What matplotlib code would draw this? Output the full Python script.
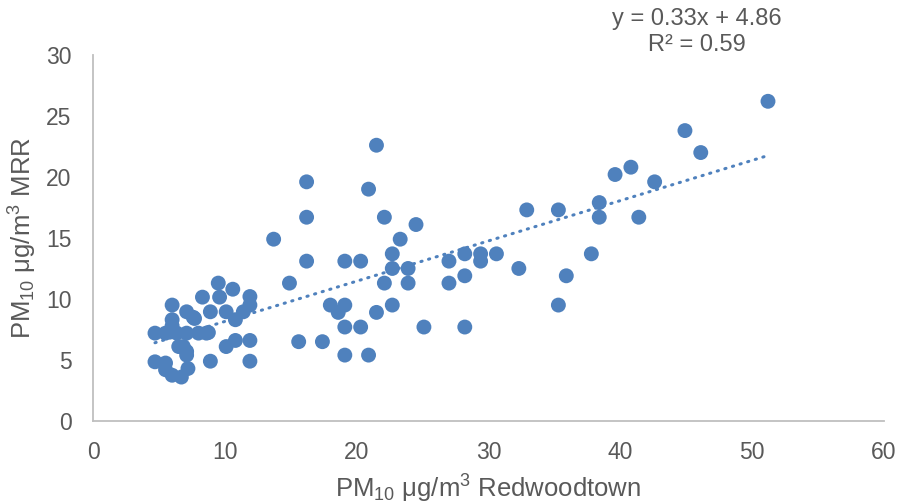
import numpy as np
import matplotlib.pyplot as plt

plt.rcParams['font.family'] = ['Liberation Sans', 'DejaVu Sans']
plt.rcParams['mathtext.default'] = 'regular'

# PM10 Redwoodtown (x) vs PM10 MRR (y)
redwoodtown = [4.7, 4.7, 5.5, 5.5, 6.0, 6.0, 6.0, 5.5, 6.35, 7.1, 8.0, 8.6,
               6.0, 6.7, 7.2, 7.1, 7.6, 6.85, 7.1, 6.5, 7.1, 8.3, 9.6, 9.5,
               10.6, 11.9, 11.9, 8.9, 10.1, 10.8, 11.4, 7.7, 8.75, 10.1, 10.8,
               11.9, 8.9, 11.9,
               13.7, 14.9, 15.6, 16.2, 16.2, 16.2, 17.4, 18.0, 18.6, 19.1, 19.1,
               19.1, 19.1, 20.3, 20.3, 20.9, 20.9, 21.5, 21.5, 22.1, 22.1, 22.7,
               22.7, 22.7, 23.3, 23.9, 23.9, 24.5, 25.1, 27.0, 27.0, 28.2, 28.2,
               28.2, 29.4, 29.4, 30.6, 32.3, 32.9, 35.3, 35.3, 35.9, 37.8, 38.4,
               38.4, 39.6, 40.8, 41.4, 42.6, 44.9, 46.1, 51.2]
mrr = [7.2, 4.85, 4.75, 4.2, 9.5, 8.3, 7.8, 7.2, 7.2, 7.2, 7.2, 7.2,
       3.75, 3.6, 4.3, 8.95, 8.5, 6.1, 5.7, 6.1, 5.4, 10.15, 10.15, 11.3,
       10.8, 10.2, 9.5, 8.95, 8.95, 8.3, 8.95, 8.4, 7.25, 6.1, 6.6,
       6.6, 4.9, 4.9,
       14.9, 11.3, 6.5, 19.6, 16.7, 13.1, 6.5, 9.5, 8.9, 9.5, 7.7,
       5.4, 13.1, 13.1, 7.7, 19.0, 5.4, 22.6, 8.9, 16.7, 11.3, 13.7,
       12.5, 9.5, 14.9, 12.5, 11.3, 16.1, 7.7, 13.1, 11.3, 13.7, 11.9,
       7.7, 13.7, 13.1, 13.7, 12.5, 17.3, 17.3, 9.5, 11.9, 13.7, 17.9,
       16.7, 20.2, 20.8, 16.7, 19.6, 23.8, 22.0, 26.2]

# linear trendline reported on the chart
slope = 0.33
intercept = 4.86
r2 = 0.59

blue = '#4F81BD'
grey = '#595959'

fig = plt.figure(figsize=(9.05, 5.04), dpi=100)
ax = fig.add_axes([0.1028, 0.1647, 0.874, 0.7263])

ax.scatter(redwoodtown, mrr, s=115, color=blue, edgecolors='none', zorder=3)

tx = np.array([min(redwoodtown), max(redwoodtown)])
ax.plot(tx, slope * tx + intercept, color=blue, lw=2.2,
        linestyle=(0, (0.4, 2.2)), dash_capstyle='round', zorder=2)

ax.set_xlim(0, 60)
ax.set_ylim(0, 30)
ax.set_xticks(range(0, 61, 10))
ax.set_yticks(range(0, 31, 5))
ax.tick_params(length=0, labelsize=16.5, colors=grey)
ax.tick_params(axis='y', pad=15.5)
ax.tick_params(axis='x', pad=14.5)
for s in ['top', 'right']:
    ax.spines[s].set_visible(False)
for s in ['left', 'bottom']:
    ax.spines[s].set_color('#BFBFBF')
    ax.spines[s].set_linewidth(1.3)

ax.set_xlabel('PM$_{10}$ μg/m$^3$ Redwoodtown', fontsize=18.5, color=grey, labelpad=6.5)
ax.set_ylabel('PM$_{10}$ μg/m$^3$ MRR', fontsize=18.5, color=grey, labelpad=5)

fig.text(0.770, 0.962, f'y = {slope:.2f}x + {intercept:.2f}', ha='center', va='center',
         fontsize=17, color=grey)
fig.text(0.770, 0.911, f'R² = {r2:.2f}', ha='center', va='center',
         fontsize=17, color=grey)

fig.savefig('out.png', dpi=100)
